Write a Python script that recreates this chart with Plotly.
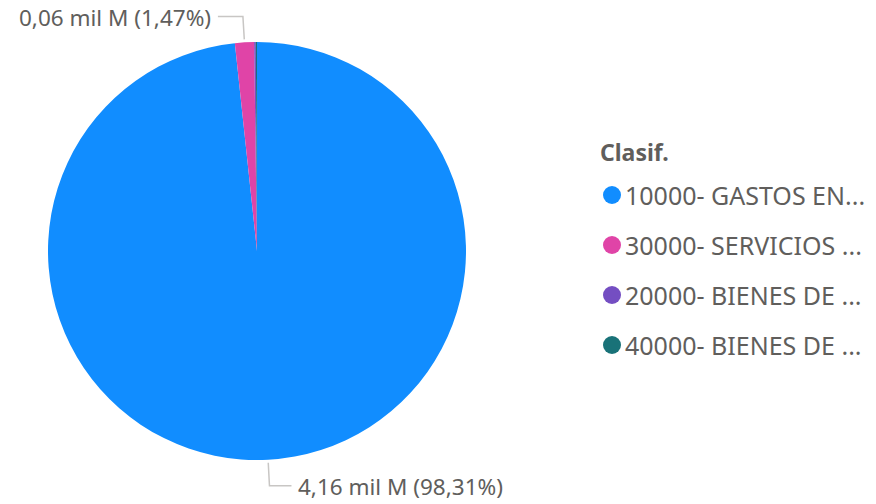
import math
import plotly.graph_objects as go

# ---- data ----
categories = ["10000- GASTOS EN...", "30000- SERVICIOS ...", "20000- BIENES DE ...", "40000- BIENES DE ..."]
values_mm = [4160.0, 62.2, 5.5, 3.8]   # millions
colors = ["#118DFF", "#E044A7", "#744EC2", "#197278"]
legend_title = "Clasif."
labelled = [0, 1]

W, H = 876, 504
OFF = 0  # body margin removed via post_script
CX, CY, R = 257, 251, 209

def px(x):
    return (x - OFF) / W

def py(y):
    return 1 - (y - OFF) / H

fig = go.Figure(go.Pie(
    labels=categories, values=values_mm, sort=False, direction="clockwise", rotation=0,
    marker=dict(colors=colors, line=dict(color="white", width=0)),
    textinfo="none", hoverinfo="none", showlegend=False,
    domain=dict(x=[px(CX - R), px(CX + R)], y=[py(CY + R), py(CY - R)]),
))

total = sum(values_mm)
cum = 0.0
shapes = []
annotations = []
grey = "#605E5C"
font_fam = "Segoe UI, Noto Sans, Open Sans, sans-serif"
for i, v in enumerate(values_mm):
    mid = (cum + v / 2) / total * 2 * math.pi
    cum += v
    if i not in labelled:
        continue
    sx = CX + (R + 3) * math.sin(mid)
    sy = CY - (R + 3) * math.cos(mid)
    ex = CX + (R + 26) * math.sin(mid)
    ey = CY - (R + 26) * math.cos(mid)
    right = math.sin(mid) > 0
    hx = ex + (22 if right else -25)
    shapes.append(dict(type="path", xref="paper", yref="paper",
                       path=f"M {px(sx)},{py(sy)} L {px(ex)},{py(ey)} L {px(hx)},{py(ey)}",
                       line=dict(color="#C8C6C4", width=1.5)))
    pct = v / total * 100
    txt = f"{v/1000:.2f} mil M ({pct:.2f}%)".replace(".", ",")
    annotations.append(dict(xref="paper", yref="paper", x=px(hx + (6 if right else -6)), y=py(ey + 1),
                            text=txt, showarrow=False, xanchor="left" if right else "right",
                            yanchor="middle", borderpad=0,
                            font=dict(size=22.5, color=grey, family=font_fam)))

# custom legend
LX, LY0, LSTEP = 598, 152, 50
annotations.append(dict(xref="paper", yref="paper", x=px(LX), y=py(LY0), text=f"<b>{legend_title}</b>",
                        showarrow=False, xanchor="left", yanchor="middle",
                        font=dict(size=23, color=grey, family=font_fam)))
for i, (c, col) in enumerate(zip(categories, colors)):
    yy = LY0 + 43 + i * LSTEP
    shapes.append(dict(type="circle", xref="paper", yref="paper",
                       x0=px(LX + 5), x1=px(LX + 23), y0=py(yy - 9), y1=py(yy + 9),
                       fillcolor=col, line=dict(width=0)))
    annotations.append(dict(xref="paper", yref="paper", x=px(LX + 25), y=py(yy), text=c,
                            showarrow=False, xanchor="left", yanchor="middle",
                            font=dict(size=25, color=grey, family=font_fam)))

fig.update_layout(width=W, height=H, margin=dict(l=0, r=0, t=0, b=0),
                  paper_bgcolor="white", plot_bgcolor="white",
                  shapes=shapes, annotations=annotations)
fig.write_html("out.html", config={"displayModeBar": False},
               post_script="document.body.style.margin='0';document.body.style.padding='0';")
